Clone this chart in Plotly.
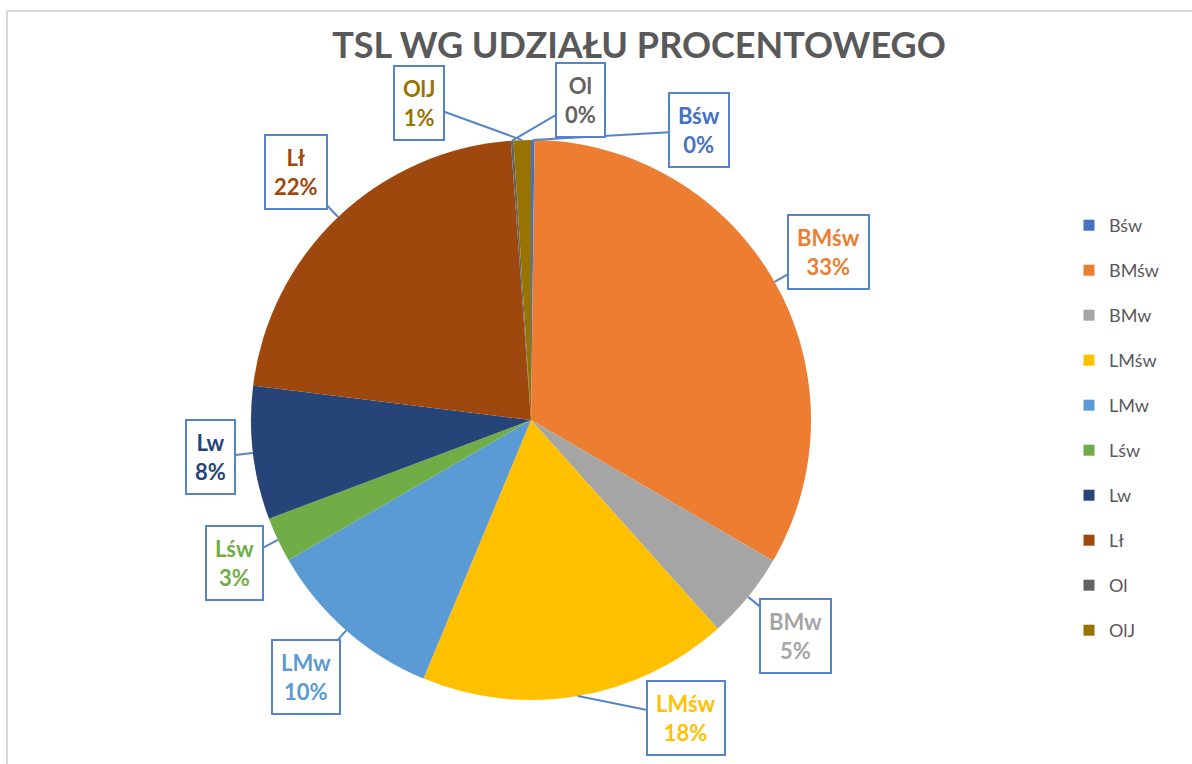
import math
import plotly.graph_objects as go

# ---- data ----
labels = ["Bśw", "BMśw", "BMw", "LMśw", "LMw", "Lśw", "Lw", "Lł", "Ol", "OlJ"]
values = [0.2, 33.2, 5.0, 17.9, 10.4, 2.6, 7.7, 21.9, 0.15, 1.0]
colors = ["#4472C4", "#ED7D31", "#A5A5A5", "#FFC000", "#5B9BD5",
          "#70AD47", "#264478", "#9E480E", "#636363", "#997300"]
title_text = "TSL WG UDZIAŁU PROCENTOWEGO"

# ---- layout geometry (pixels) ----
W, H = 1192, 764
CX, CY, R = 531, 420, 280
LABEL_RF = 1.22
# pixel nudges for callouts that Excel moved off the radial line
label_nudge = {"Bśw": (166, 52), "Ol": (73, 21), "OlJ": (-101, 24),
               "LMśw": (98, -39), "Lw": (19, -3), "Lśw": (12, -3)}
FONT = "Lato"
BOX = "#5585C8"

fig = go.Figure()
fig.add_trace(go.Pie(
    labels=labels, values=values, sort=False, direction="clockwise",
    rotation=0, marker=dict(colors=colors, line=dict(width=0)),
    textinfo="none", hoverinfo="label+percent", showlegend=False,
    domain=dict(x=[(CX - R) / W, (CX + R) / W],
                y=[1 - (CY + R) / H, 1 - (CY - R) / H]),
))

# legend entries
for lab, col in zip(labels, colors):
    fig.add_trace(go.Scatter(x=[None], y=[None], mode="markers", name=lab,
                             legendgroup=lab,
                             marker=dict(symbol="square", size=11, color=col)))

total = sum(values)
cum = 0.0
annotations = []
for lab, val, col in zip(labels, values, colors):
    mid = (cum + val / 2) / total * 2 * math.pi
    cum += val
    tipx = CX + R * math.sin(mid)
    tipy = CY - R * math.cos(mid)
    bx = CX + LABEL_RF * R * math.sin(mid)
    by = CY - LABEL_RF * R * math.cos(mid)
    nx, ny = label_nudge.get(lab, (0, 0))
    bx += nx
    by += ny
    pct = round(val / total * 100)
    annotations.append(dict(
        x=tipx / W, y=1 - tipy / H, xref="paper", yref="paper",
        ax=bx - tipx, ay=by - tipy, axref="pixel", ayref="pixel",
        text=f"<b>{lab}<br>{pct}%</b>", showarrow=True, arrowhead=0,
        arrowwidth=2, arrowcolor=BOX, standoff=0,
        font=dict(family=FONT, size=22, color=col),
        bgcolor="white", bordercolor=BOX, borderwidth=2, borderpad=8,
        align="center",
    ))

fig.update_layout(
    width=W, height=H, margin=dict(l=0, r=0, t=0, b=0),
    paper_bgcolor="white", plot_bgcolor="white",
    title=dict(text=f"<b>{title_text}</b>", x=639 / W, y=1 - 45 / H,
               xanchor="center", yanchor="middle",
               font=dict(family=FONT, size=36, color="#595959")),
    xaxis=dict(visible=False), yaxis=dict(visible=False),
    legend=dict(x=1069 / W, y=1 - 207 / H, xanchor="left", yanchor="top",
                font=dict(family=FONT, size=18, color="#595959"),
                tracegroupgap=18.6, bgcolor="rgba(0,0,0,0)"),
    annotations=annotations,
    shapes=[dict(type="rect", xref="paper", yref="paper",
                 x0=7 / W, x1=1.05, y0=-0.05, y1=1 - 11 / H,
                 line=dict(color="#D9D9D9", width=2), layer="below")],
)

fig.write_html("out.html")
